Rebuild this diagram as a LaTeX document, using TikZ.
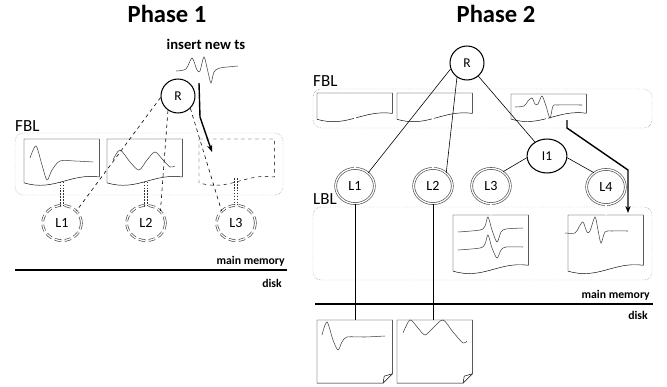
\documentclass[tikz,border=0pt]{standalone}
\usepackage{fontspec}
\setmainfont{Carlito}
\usetikzlibrary{shapes.geometric,arrows.meta}

% page with a wavy lower edge
\newcommand{\docpage}[2][]{%
  \draw[#1] (#2.north west) -- (#2.north east) -- (#2.south east)
    .. controls +(-30,-4) and +(30,9) .. ([yshift=-5pt]#2.south west) -- cycle;}
% page on disk, folded corner
\newcommand{\diskpage}[1]{%
  \draw (#1.north west) -- (#1.north east) -- ([yshift=8pt]#1.south east)
    -- ([xshift=-8pt]#1.south east) -- (#1.south west) -- cycle;
  \draw ([yshift=8pt]#1.south east) -- ([xshift=-7pt,yshift=6pt]#1.south east)
    -- ([xshift=-8pt]#1.south east);}

\begin{document}
\begin{tikzpicture}[x=0.03cm, y=-0.03cm,
    hub/.style={circle, draw, line width=0.9pt, minimum size=29pt, inner sep=0, font=\fontsize{11.5}{13}\selectfont},
    leaf/.style={ellipse, draw=gray!60!black, double, double distance=1.1pt, line width=0.55pt,
      minimum width=33pt, minimum height=30pt, inner sep=0, font=\fontsize{12}{14}\selectfont},
    ghost/.style={leaf, draw=gray!50!black, dash pattern=on 5.5pt off 3pt},
    page/.style={rectangle, inner sep=0, anchor=north west, minimum width=64pt},
    zone/.style={draw=gray, densely dotted, rounded corners=7pt},
    wave/.style={line width=0.45pt, draw=black!75},
    dots/.style={draw=gray!40!black, line width=0.7pt, dash pattern=on 1.4pt off 1.1pt},
    dotlink/.style={preaction={dots, transform canvas={xshift=-1pt}}, postaction={dots, transform canvas={xshift=1pt}}},
    link/.style={draw=gray!60!black, double, double distance=1pt, line width=0.6pt},
    edge/.style={line width=0.5pt},
    push/.style={line width=1.2pt, -{Stealth[length=6pt]}},
    title/.style={font=\bfseries\fontsize{21}{24}\selectfont, anchor=base},
    layer/.style={font=\fontsize{14.5}{16}\selectfont, anchor=base west, inner sep=0},
    tag/.style={font=\bfseries\fontsize{10}{12}\selectfont, anchor=base east, inner sep=0}]
    \useasboundingbox (0,0) rectangle (667,386);

    % Phase 1
    \node[title] (t1) at (167,22) {Phase 1};
    \node[font=\bfseries\fontsize{12.5}{14}\selectfont, anchor=base] (ins) at (206,49) {insert new ts};
    \draw[wave] plot[smooth] coordinates {(176,71) (186,69) (192,58) (197,70) (200,71) (204,57) (208,72) (211,83) (214,72) (220,68) (238,66)};
    \node[hub] (r1) at (178,96) {R};

    \node[layer] (fbl1) at (15,131) {FBL};
    \draw[zone] (15,133) rectangle (283,195);
    \node[page, minimum height=32pt] (a1) at (24,139) {};
    \node[page, minimum height=32pt] (a2) at (107,139) {};
    \node[page, minimum height=32pt] (a3) at (199,139) {};
    \docpage{a1}
    \docpage{a2}
    \docpage[dashed]{a3}
    \draw[wave] plot[smooth] coordinates {(30,158) (36,146) (42,165) (47,180) (52,170) (60,161) (75,161) (93,162)};
    \draw[wave] plot[smooth] coordinates {(113,160) (120,150) (130,162) (139,170) (147,160) (155,152) (163,160) (170,167) (175,166)};

    \node[ghost] (l1) at (62,223) {L1};
    \node[ghost] (l2) at (146,223) {L2};
    \node[ghost] (l3) at (236,223) {L3};
    \path[dotlink] ([yshift=-4pt]l1.north |- a1.south) -- (l1.north);
    \path[dotlink] ([yshift=-4pt]l2.north |- a2.south) -- (l2.north);
    \path[dotlink] ([yshift=-1pt]l3.north |- a3.south) -- (l3.north);
    \draw[edge, dashed] (r1.185) -- (l1.40);
    \draw[edge, dashed] (r1.235) -- (l2.40);
    \draw[edge, dashed] (r1.315) -- (l3.140);

    \coordinate (in1) at (199,83);
    \coordinate (kn1) at (200,117);
    \coordinate (to1) at (212,152);
    \draw[push] (in1) -- (kn1) -- (to1);

    \node[tag] (mm1) at (285,264) {main memory};
    \node[tag] (dk1) at (282,287) {disk};
    \draw[line width=1.3pt] (15,270) -- (287,270);

    % Phase 2
    \node[title] (t2) at (496,22) {Phase 2};
    \node[hub] (r2) at (467,63) {R};

    \node[layer] (fbl2) at (313,86) {FBL};
    \draw[zone] (313,89) rectangle (652,128);
    \node[page, minimum height=17pt] (b1) at (317,93) {};
    \node[page, minimum height=17pt] (b2) at (397,93) {};
    \node[page, minimum height=16pt] (b3) at (511,94) {};
    \docpage{b1}
    \docpage{b2}
    \docpage{b3}
    \draw[wave] plot[smooth] coordinates {(515,107) (524,106) (528,101) (532,98) (535,104) (538,104) (542,96) (546,106) (550,118) (553,106) (558,105) (582,105)};

    \node[hub, ellipse, minimum width=34pt, minimum height=29pt] (i1) at (547,156) {I1};
    \node[leaf] (m1) at (355,186) {L1};
    \node[leaf] (m2) at (433,186) {L2};
    \node[leaf] (m3) at (491,186) {L3};
    \node[leaf] (m4) at (606,187) {L4};

    \node[layer] (lbl) at (313,204) {LBL};
    \draw[zone] (313,207) rectangle (652,280);
    \node[page, minimum height=42.5pt] (c3) at (453,215) {};
    \node[page, minimum height=42.5pt] (c4) at (568,215) {};
    \docpage{c3}
    \docpage{c4}
    \draw[wave] plot[smooth] coordinates {(458,232) (480,230) (485,226) (488,217) (492,230) (497,242) (501,232) (506,229) (523,228)};
    \draw[wave] plot[smooth] coordinates {(458,250) (480,248) (485,244) (488,235) (492,248) (497,258) (501,250) (506,247) (523,247)};
    \draw[wave] plot[smooth] coordinates {(565,233) (575,233) (579,227) (583,222) (587,232) (590,231) (595,217) (598,230) (601,243) (605,232) (612,231) (628,231)};

    \draw[link] ([yshift=-2.5pt]m1 |- b1.south) -- (m1);
    \draw[link] ([yshift=-2.5pt]m2 |- b2.south) -- (m2);
    \draw[link] ([yshift=-2pt]i1 |- b3.south) -- (i1);
    \draw[link] (m3) -- (m3 |- c3.north);
    \draw[link] (m4) -- (m4 |- c4.north);
    \draw[edge] (r2.200) -- (m1.45);
    \draw[edge] (r2.235) -- (m2.45);
    \draw[edge] (r2) -- (i1);
    \draw[edge] (i1.185) -- (m3.50);
    \draw[edge] (i1.355) -- (m4.130);

    \coordinate (in2) at (567,120);
    \coordinate (kn2) at (567,128);
    \coordinate (bd2) at (628,170);
    \coordinate (to2) at (628,213);
    \draw[push] (in2) -- (kn2) -- (bd2) -- (to2);

    \node[tag] (mm2) at (650,298) {main memory};
    \node[tag] (dk2) at (648,319) {disk};
    \draw[line width=1.3pt] (315,304) -- (653,304);

    \node[page, minimum height=53.5pt] (d1) at (317,320) {};
    \node[page, minimum height=53.5pt] (d2) at (397,320) {};
    \diskpage{d1}
    \diskpage{d2}
    \draw[wave] plot[smooth] coordinates {(322,335) (327,322) (333,340) (338,350) (342,342) (347,337) (365,337) (385,336)};
    \draw[wave] plot[smooth] coordinates {(403,333) (410,320) (418,328) (425,335) (433,328) (443,320) (453,332) (463,343) (467,341)};
    \draw[edge] (m1.south) -- (m1.south |- d1.north);
    \draw[edge] (m2.south) -- (m2.south |- d2.north);
\end{tikzpicture}
\end{document}
